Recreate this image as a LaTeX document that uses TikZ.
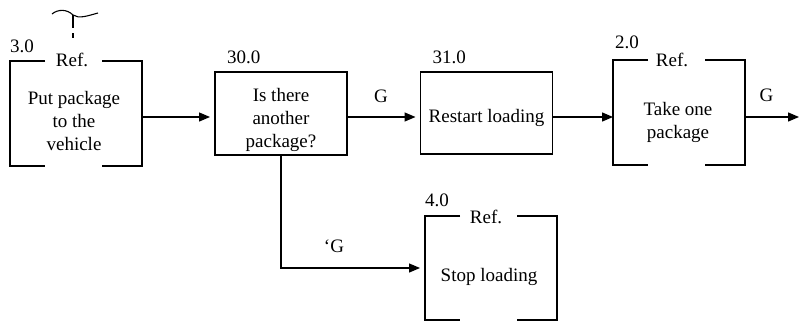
\documentclass[tikz,border=0pt]{standalone}
\usepackage{fontspec}
\setmainfont{Liberation Serif}
\usetikzlibrary{arrows.meta,calc}

% bracket-style frame of a referenced unit: open gaps top and bottom
\newcommand{\refframe}[1]{%
  \draw[frame] ([xshift=35pt]#1.north west) -- (#1.north west) -- (#1.south west) -- ([xshift=35pt]#1.south west);
  \draw[frame] ([xshift=-40pt]#1.north east) -- (#1.north east) -- (#1.south east) -- ([xshift=-40pt]#1.south east);
}

\begin{document}
\begin{tikzpicture}[x=1pt,y=-1pt,
  every node/.style={font=\fontsize{19}{23}\selectfont, inner sep=0pt, outer sep=0pt},
  frame/.style={line width=1.3pt},
  proc/.style={draw, line width=1.3pt, minimum width=132pt},
  refunit/.style={minimum width=132pt, minimum height=105pt},
  body/.style={align=center},
  numlbl/.style={anchor=base west},
  reflbl/.style={anchor=base},
  flow/.style={line width=1.3pt, -{Triangle[length=11pt,width=9pt]}},
]
\useasboundingbox (0,0) rectangle (799,322);

% helper coordinates for the main row and the outgoing end
\coordinate (row) at (0,117);
\coordinate (exit) at (799,117);

% unit 3.0 (reference)
\node[refunit] (p3) at (76,113.5) {};
\refframe{p3}
\node[body] (p3txt) at (74,120.5) {Put package\\to the\\vehicle};
\node[reflbl] (p3ref) at ([xshift=62pt,yshift=-5pt]p3.north west) {Ref.};
\node[numlbl] (p3num) at ([yshift=9pt]p3.north west) {3.0};

% call-out mark above unit 3.0
\draw[line width=1.1pt] (52,14) .. controls (58,9) and (67,9) .. (73,15)
                       .. controls (79,19) and (87,16) .. (98,13);
\draw[line width=1.1pt] (73,15) -- (73,28);
\draw[line width=1.1pt] (73,33) -- (73,38);

% unit 30.0
\node[proc, minimum height=83pt] (q30) at (281,113.5) {};
\node[body] (q30txt) at (281,119.5) {Is there\\another\\package?};
\node[numlbl] (q30num) at ([xshift=12pt,yshift=9pt]q30.north west) {30.0};

% unit 31.0
\node[proc, minimum height=82pt] (r31) at (486.5,113) {};
\node[body] (r31txt) at (486.5,117.5) {Restart loading};
\node[numlbl] (r31num) at ([xshift=12pt,yshift=9pt]r31.north west) {31.0};

% unit 2.0 (reference)
\node[refunit] (t2) at (679,112.5) {};
\refframe{t2}
\node[body] (t2txt) at (678,122) {Take one\\package};
\node[reflbl] (t2ref) at ([xshift=59pt,yshift=-6pt]t2.north west) {Ref.};
\node[numlbl] (t2num) at ([xshift=2pt,yshift=12pt]t2.north west) {2.0};

% unit 4.0 (reference)
\node[refunit, minimum height=104pt] (s4) at (491,268) {};
\refframe{s4}
\node[body] (s4txt) at (489,276.5) {Stop loading};
\node[reflbl] (s4ref) at ([xshift=61pt,yshift=-7pt]s4.north west) {Ref.};
\node[numlbl] (s4num) at ([yshift=10pt]s4.north west) {4.0};

% connectors
\draw[flow, shorten >=5pt] (p3.east |- row) -- (q30.west |- row);
\draw[flow, shorten >=5pt] (q30.east |- row) -- (r31.west |- row);
\draw[flow] (r31.east |- row) -- (t2.west |- row);
\draw[flow] (t2.east |- row) -- (exit);
\draw[flow, shorten >=5pt] (q30.south) |- (s4.west);

% connector labels
\node[anchor=base] (g1) at (381,102) {G};
\node[anchor=base] (g2) at (766.5,101) {G};
\node[anchor=base] (g3) at (334,252) {‘G};
\end{tikzpicture}
\end{document}
